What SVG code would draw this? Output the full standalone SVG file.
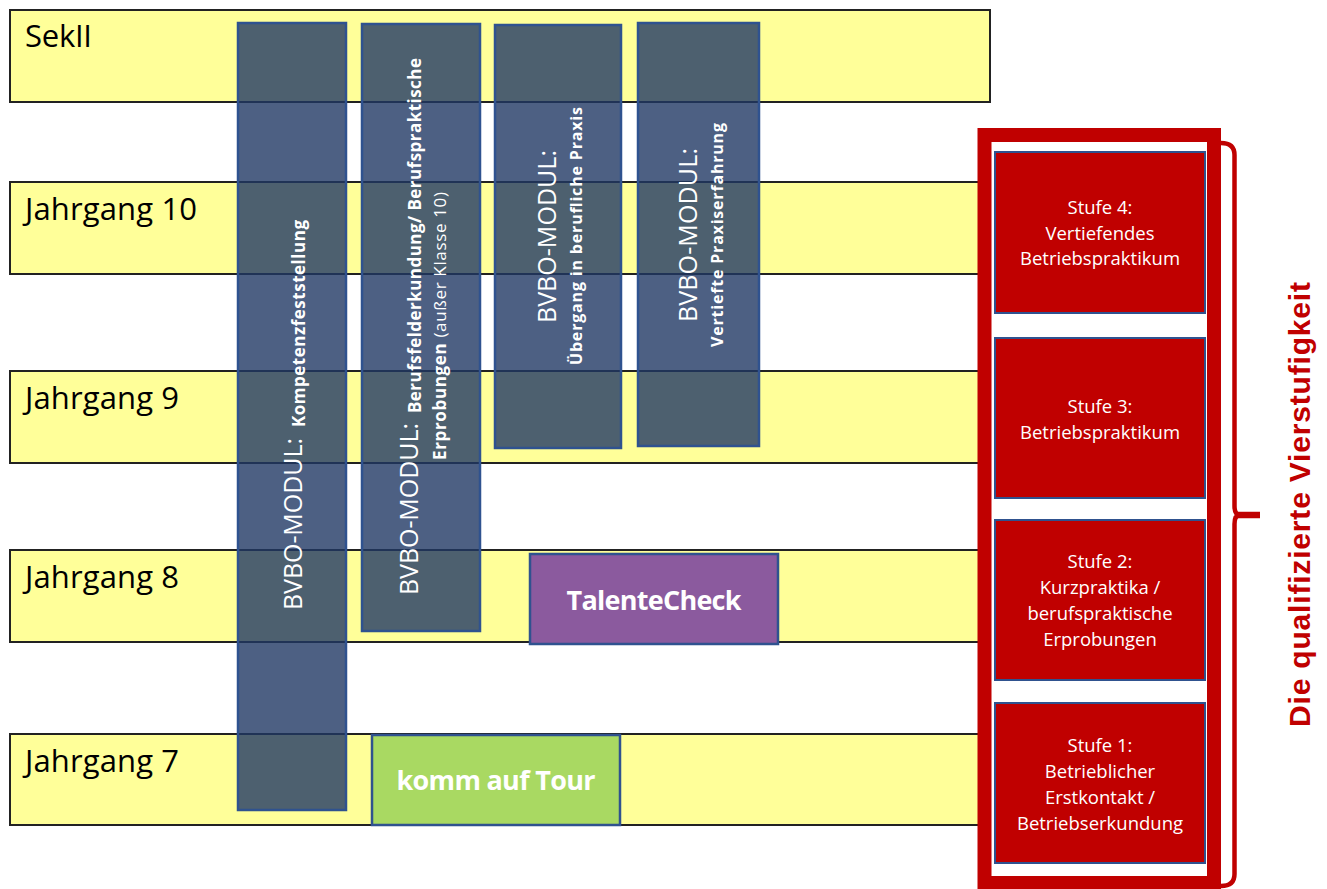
<svg xmlns="http://www.w3.org/2000/svg" width="1327" height="889" viewBox="0 0 1327 889">
<style>
.band{fill:#FFFF99;stroke:#222;stroke-width:2}
.lbl{font-family:"Open Sans","Noto Sans",sans-serif;font-size:31px;fill:#000}
.col{fill:#203864;fill-opacity:0.8;stroke:#2F528F;stroke-width:2.5}
.vreg{font-family:"Open Sans","Noto Sans",sans-serif;font-size:25px;fill:#fff}
.vbold{font-family:"Open Sans","Noto Sans",sans-serif;font-weight:bold;font-size:17px;fill:#fff}
.vsm{font-family:"Open Sans","Noto Sans",sans-serif;font-size:17px;fill:#fff}
.box{stroke:#2F528F;stroke-width:2.5}
.btxt{font-family:"Open Sans","Noto Sans",sans-serif;font-weight:bold;font-size:27px;fill:#fff;text-anchor:middle}
.stufe{fill:#C00000;stroke:#2F528F;stroke-width:2}
.st{font-family:"Open Sans","Noto Sans",sans-serif;font-size:18.5px;fill:#fff;text-anchor:middle}
</style>
<rect width="1327" height="889" fill="#fff"/>
<g id="rows">
  <g id="row-sek2"><rect class="band" x="10" y="10" width="980" height="92"/><text class="lbl" x="25" y="47" textLength="67">SekII</text></g>
  <g id="row-j10"><rect class="band" x="10" y="182" width="980" height="92"/><text class="lbl" x="25" y="220" textLength="172">Jahrgang 10</text></g>
  <g id="row-j9"><rect class="band" x="10" y="371" width="980" height="92"/><text class="lbl" x="25" y="409" textLength="154">Jahrgang 9</text></g>
  <g id="row-j8"><rect class="band" x="10" y="550" width="980" height="92"/><text class="lbl" x="25" y="588" textLength="154">Jahrgang 8</text></g>
  <g id="row-j7"><rect class="band" x="10" y="734" width="980" height="91"/><text class="lbl" x="25" y="772" textLength="154">Jahrgang 7</text></g>
</g>
<g id="col-kompetenz">
  <rect class="col" x="238" y="23" width="108" height="787"/>
  <text class="vreg" transform="translate(302,610) rotate(-90)" textLength="172">BVBO-MODUL:</text>
  <text class="vbold" transform="translate(305,427) rotate(-90)" textLength="207">Kompetenzfeststellung</text>
</g>
<g id="col-berufsfelder">
  <rect class="col" x="362" y="24" width="118" height="607"/>
  <text class="vreg" transform="translate(418,595) rotate(-90)" textLength="172">BVBO-MODUL:</text>
  <text class="vbold" transform="translate(421,413) rotate(-90)" textLength="355">Berufsfelderkundung/ Berufspraktische</text>
  <text class="vsm" transform="translate(446,460) rotate(-90)" textLength="268"><tspan font-weight="bold">Erprobungen</tspan> (außer Klasse 10)</text>
</g>
<g id="col-uebergang">
  <rect class="col" x="495" y="25" width="126" height="423"/>
  <text class="vreg" transform="translate(556,323) rotate(-90)" textLength="173">BVBO-MODUL:</text>
  <text class="vbold" style="font-size:16px" transform="translate(582,365) rotate(-90)" textLength="258">Übergang in berufliche Praxis</text>
</g>
<g id="col-vertiefte">
  <rect class="col" x="638" y="23" width="121" height="423"/>
  <text class="vreg" transform="translate(697,322) rotate(-90)" textLength="174">BVBO-MODUL:</text>
  <text class="vbold" style="font-size:16px" transform="translate(723,347) rotate(-90)" textLength="224">Vertiefte Praxiserfahrung</text>
</g>
<g id="talentecheck">
  <rect class="box" x="530" y="554" width="248" height="90" fill="#8B5A9E"/>
  <text class="btxt" x="654" y="610" textLength="175">TalenteCheck</text>
</g>
<g id="komm-auf-tour">
  <rect class="box" x="372" y="735" width="248" height="90" fill="#A9D962"/>
  <text class="btxt" x="496" y="790" textLength="199">komm auf Tour</text>
</g>
<g id="vierstufigkeit">
  <rect x="984.5" y="135" width="229.5" height="748" fill="#fff" stroke="#C00000" stroke-width="14"/>
  <g id="stufe4"><rect class="stufe" x="995" y="152" width="210" height="161"/>
    <text class="st" x="1100" y="214">Stufe 4:</text><text class="st" x="1100" y="239.5">Vertiefendes</text><text class="st" x="1100" y="265">Betriebspraktikum</text></g>
  <g id="stufe3"><rect class="stufe" x="995" y="338" width="210" height="160"/>
    <text class="st" x="1100" y="413">Stufe 3:</text><text class="st" x="1100" y="438.5">Betriebspraktikum</text></g>
  <g id="stufe2"><rect class="stufe" x="995" y="520" width="210" height="160"/>
    <text class="st" x="1100" y="568">Stufe 2:</text><text class="st" x="1100" y="594">Kurzpraktika /</text><text class="st" x="1100" y="620">berufspraktische</text><text class="st" x="1100" y="646">Erprobungen</text></g>
  <g id="stufe1"><rect class="stufe" x="995" y="703" width="210" height="160"/>
    <text class="st" x="1100" y="752">Stufe 1:</text><text class="st" x="1100" y="778">Betrieblicher</text><text class="st" x="1100" y="804">Erstkontakt /</text><text class="st" x="1100" y="830">Betriebserkundung</text></g>
</g>
<g id="connectors">
  <path d="M1221,143 Q1234.5,143 1234.5,155 L1234.5,506 Q1234.5,515 1240,515 M1240,515 Q1234.5,515 1234.5,524 L1234.5,874 Q1234.5,886 1221,886" fill="none" stroke="#C00000" stroke-width="4.5"/>
  <line x1="1236" y1="515" x2="1260" y2="515" stroke="#C00000" stroke-width="6.5"/>
</g>
<text transform="translate(1310,727) rotate(-90)" textLength="445" font-family="'Liberation Sans',Arial,sans-serif" font-weight="bold" font-size="30" fill="#C00000">Die qualifizierte Vierstufigkeit</text>
</svg>
